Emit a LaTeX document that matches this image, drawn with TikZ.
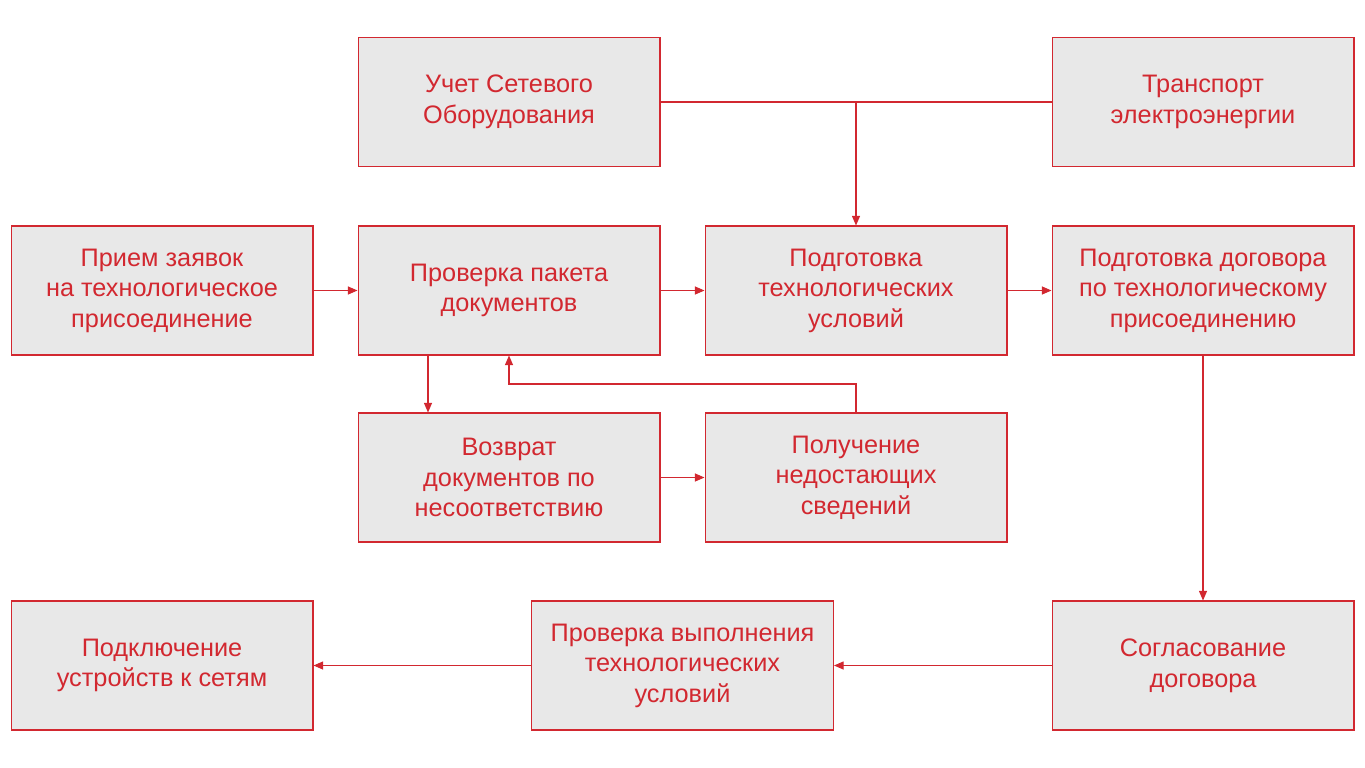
\documentclass[tikz,border=0pt]{standalone}
\usepackage{fontspec}
\setmainfont{Liberation Sans}
\usetikzlibrary{arrows.meta}
\definecolor{boxred}{RGB}{210,40,48}
\definecolor{boxgray}{RGB}{232,232,232}
\tikzset{
  procbox/.style={draw=boxred, fill=boxgray, line width=0.6pt, text=boxred,
    minimum width=6.04cm, minimum height=2.58cm, inner sep=0pt,
    align=center, font=\fontsize{14.4}{17.4}\selectfont},
  link/.style={draw=boxred, line width=0.6pt},
  flow/.style={link, -{Triangle[length=5.5pt,width=4.6pt]}}
}
\begin{document}
\begin{tikzpicture}[x=0.02cm, y=-0.02cm]
  \useasboundingbox (0,0) rectangle (1365,767);

  \node[procbox] (uchet) at (509,102) {Учет Сетевого\\Оборудования};
  \node[procbox] (transp) at (1203,102) {Транспорт\\электроэнергии};
  \node[procbox] (priem) at (162,290.5) {Прием заявок\\на технологическое\\присоединение};
  \node[procbox] (paket) at (509,290.5) {Проверка пакета\\документов};
  \node[procbox] (tu) at (856,290.5) {Подготовка\\технологических\\условий};
  \node[procbox] (dogovor) at (1203,290.5) {Подготовка договора\\по технологическому\\присоединению};
  \node[procbox] (vozvrat) at (509,477.5) {Возврат\\документов по\\несоответствию};
  \node[procbox] (poluch) at (856,477.5) {Получение\\недостающих\\сведений};
  \node[procbox] (podkl) at (162,665.5) {Подключение\\устройств к сетям};
  \node[procbox] (vypoln) at (682.5,665.5) {Проверка выполнения\\технологических\\условий};
  \node[procbox] (soglas) at (1203,665.5) {Согласование\\договора};

  \coordinate (top) at (856,102);
  \coordinate (back) at (509,384);

  \draw[link] (uchet) -- (transp);
  \draw[flow] (top) -- (tu);
  \draw[flow] (priem) -- (paket);
  \draw[flow] (paket) -- (tu);
  \draw[flow] (tu) -- (dogovor);
  \draw[flow] (paket.south -| 428,0) -- (vozvrat.north -| 428,0);
  \draw[flow] (poluch.north) |- (back) -- (paket.south);
  \draw[flow] (vozvrat) -- (poluch);
  \draw[flow] (dogovor) -- (soglas);
  \draw[flow] (soglas) -- (vypoln);
  \draw[flow] (vypoln) -- (podkl);
\end{tikzpicture}
\end{document}
